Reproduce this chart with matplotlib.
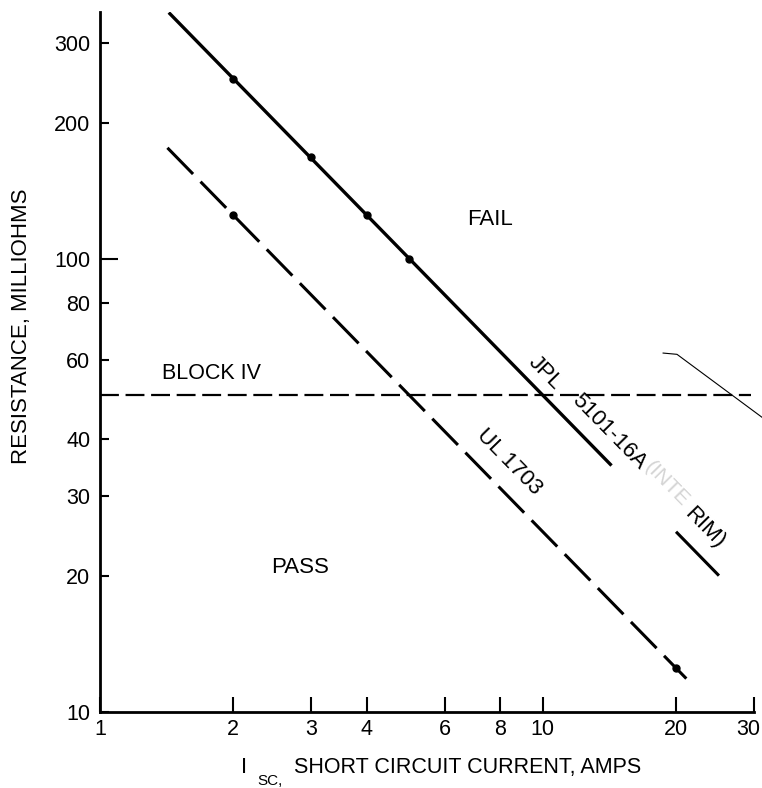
import matplotlib
matplotlib.use('Agg')
import matplotlib.pyplot as plt
import matplotlib.transforms as mtransforms
from matplotlib import font_manager
from matplotlib.ticker import NullLocator

# values
# JPL 5101-16A criterion: solid line, R = 500 / Isc
jpl_line_i = [1.43, 14.3]
jpl_line_r = [350, 35]
jpl_tail_i = [20, 25]
jpl_tail_r = [25, 20]
jpl_pts_i = [2, 3, 4, 5]
jpl_pts_r = [250, 168, 125, 100]

# UL 1703 criterion: long dashes, R = 250 / Isc
ul_line_i = [1.42, 21.1]
ul_line_r = [176, 11.85]
ul_pts_i = [2, 20]
ul_pts_r = [125, 12.5]

# Block IV limit
block_iv_i = [1, 29.5]
block_iv_r = [50, 50]

# stray pen stroke at the right edge of the scan
stray_i = [18.7, 20.1, 31.5]
stray_r = [62, 61.6, 44.5]

x_ticks = [1, 2, 3, 4, 6, 8, 10, 20, 30]
y_ticks = [10, 20, 30, 40, 60, 80, 100, 200, 300]

names = {f.name for f in font_manager.fontManager.ttflist}
plt.rcParams['font.family'] = ['Liberation Sans', 'DejaVu Sans']
if 'Liberation Sans Narrow' in names:
    tick_font = {'family': 'Liberation Sans Narrow', 'size': 16.5}
else:
    tick_font = {'family': 'Liberation Sans', 'size': 15.5}

W, H = 762, 788
fig = plt.figure(figsize=(W / 100, H / 100), dpi=100)
ax = fig.add_axes([100 / W, 1 - 712 / H, 654 / W, 700 / H])
ax.set_xscale('log')
ax.set_yscale('log')
ax.set_xlim(1, 30)
ax.set_ylim(10, 351)

ax.plot(jpl_line_i, jpl_line_r, color='black', lw=2.4, solid_capstyle='butt')
ax.plot(jpl_tail_i, jpl_tail_r, color='black', lw=2.2, solid_capstyle='butt')
ax.plot(jpl_pts_i, jpl_pts_r, 'o', color='black', ms=5)
ax.plot(ul_line_i, ul_line_r, color='black', lw=2.2, linestyle=(0, (12, 3.5)),
        dash_capstyle='butt')
ax.plot(ul_pts_i, ul_pts_r, 'o', color='black', ms=5)
ax.plot(block_iv_i, block_iv_r, color='black', lw=1.6, linestyle=(0, (8.5, 3)))
ax.plot(stray_i, stray_r, color='black', lw=0.8, clip_on=False)

# axes styling
for side in ['top', 'right']:
    ax.spines[side].set_visible(False)
for side in ['left', 'bottom']:
    ax.spines[side].set_linewidth(2)
ax.xaxis.set_minor_locator(NullLocator())
ax.yaxis.set_minor_locator(NullLocator())
ax.set_xticks(x_ticks)
ax.set_xticklabels([str(v) for v in x_ticks], fontdict=tick_font)
ax.set_yticks(y_ticks)
ax.set_yticklabels([str(v) for v in y_ticks], fontdict=tick_font)
ax.tick_params(axis='x', direction='in', length=11, width=1.5, pad=5)
ax.tick_params(axis='y', direction='in', length=6.5, width=1.5, pad=7)
for t in ax.yaxis.get_major_ticks():
    if t.get_loc() == 100:
        t.tick1line.set_markersize(13)
# the last x label sits on the right edge of the scan; nudge it inside
last = ax.get_xticklabels()[-1]
last.set_transform(last.get_transform() +
                   mtransforms.ScaledTranslation(-6 / 100, 0, fig.dpi_scale_trans))

ax.set_ylabel('RESISTANCE, MILLIOHMS', fontsize=16)
ax.yaxis.set_label_coords(-0.104, 0.551)

# x label with subscript, drawn in figure pixels
fig.text(241 / W, 1 - 773 / H, 'I', fontsize=16, va='baseline')
fig.text(257 / W, 1 - 785 / H, 'SC,', fontsize=11, va='baseline')
fig.text(294 / W, 1 - 773 / H, 'SHORT CIRCUIT CURRENT, AMPS', fontsize=15.5,
         va='baseline')

# region and curve labels
ang = -45.6
ax.text(7.6, 122, 'FAIL', fontsize=16, ha='center', va='center')
ax.text(2.83, 20.8, 'PASS', fontsize=16, ha='center', va='center')
ax.text(1.79, 56, 'BLOCK IV', fontsize=15.5, ha='center', va='center')
ax.text(10.1, 56, 'JPL', fontsize=16, ha='center', va='center',
        rotation=ang, rotation_mode='anchor')
ax.text(14.1, 41.5, '5101-16A', fontsize=16, ha='center', va='center',
        rotation=ang, rotation_mode='anchor')
ax.text(19.1, 31.8, '(INTE', fontsize=15, ha='center', va='center',
        rotation=ang, rotation_mode='anchor', color='#d4d4d4')
ax.text(23.2, 25.5, 'RIM)', fontsize=16, ha='center', va='center',
        rotation=ang, rotation_mode='anchor')
ax.text(8.4, 35.6, 'UL 1703', fontsize=16, ha='center', va='center',
        rotation=ang, rotation_mode='anchor')

fig.savefig('out.png', dpi=100)
